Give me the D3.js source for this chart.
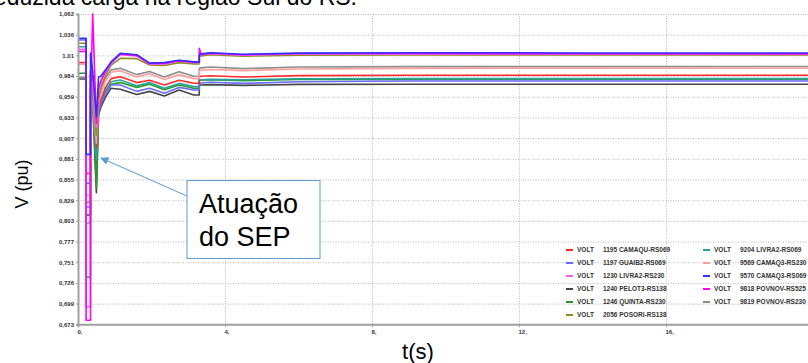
<!DOCTYPE html>
<html>
<head>
<meta charset="utf-8">
<script src="https://cdn.jsdelivr.net/npm/d3@7"></script>
<style>
  body { margin: 0; background: #fff; }
  svg { display: block; font-family: "Liberation Sans", Arial, sans-serif; }
</style>
</head>
<body>
<div id="chart"></div>
<script>
// time samples (s) shared by every bus
const times = [0, 0.22, 0.221, 0.34, 0.341, 0.4, 0.5, 0.56, 0.62, 0.75, 0.9, 1.15, 1.6, 1.95,
  2.35, 2.75, 3.15, 3.3, 3.301, 3.35, 3.6, 4.5, 6, 9, 14, 20];

// voltage (pu) per bus
const v1195 = [1.001, 1.001, 0.862, 0.862, 0.99, 0.983, 0.895, 0.945, 0.954, 0.970, 0.981, 0.9834, 0.976, 0.979,
  0.973, 0.979, 0.9751, 0.9751, 0.9834, 0.984, 0.9845, 0.983, 0.9848, 0.9852, 0.9852, 0.9852];
const v1197 = [1.0294, 1.0294, 0.82, 0.82, 0.99, 0.96, 0.905, 0.94, 0.948, 0.962, 0.973, 0.973, 0.965, 0.969,
  0.9626, 0.970, 0.9667, 0.9667, 0.975, 0.9755, 0.9765, 0.975, 0.977, 0.978, 0.978, 0.978];
const v1230 = [1.0177, 1.0177, 0.695, 0.695, 0.98, 0.975, 0.92, 0.965, 0.975, 0.99, 1.0, 1.011, 1.0095, 0.9995,
  0.9995, 1.003, 1.001, 1.001, 1.0105, 1.011, 1.0125, 1.0105, 1.012, 1.012, 1.012, 1.012];
const v1240 = [0.9805, 0.9805, 0.81, 0.81, 0.965, 0.95, 0.838, 0.935, 0.945, 0.958, 0.969, 0.9676, 0.961, 0.965,
  0.9592, 0.9667, 0.9605, 0.9605, 0.973, 0.973, 0.9735, 0.9725, 0.9738, 0.974, 0.974, 0.9739];
const v1246 = [0.9877, 0.9877, 0.732, 0.732, 0.97, 0.967, 0.844, 0.94, 0.95, 0.966, 0.974, 0.976, 0.970, 0.974,
  0.967, 0.973, 0.969, 0.969, 0.979, 0.979, 0.9795, 0.9785, 0.980, 0.9801, 0.9801, 0.9801];
const v2056 = [1.0253, 1.0253, 0.826, 0.826, 0.985, 0.96, 0.91, 0.955, 0.970, 0.985, 0.998, 1.0065, 1.006, 0.998,
  0.9975, 1.001, 0.9995, 0.9995, 1.009, 1.0095, 1.011, 1.009, 1.0105, 1.0106, 1.0106, 1.0106];
const v9204 = [1.021, 1.021, 0.85, 0.85, 0.985, 0.96, 0.88, 0.94, 0.95, 0.966, 0.977, 0.9793, 0.972, 0.976,
  0.969, 0.975, 0.971, 0.971, 0.979, 0.9795, 0.980, 0.9795, 0.9808, 0.981, 0.981, 0.981];
const v9569 = [0.999, 0.999, 0.835, 0.835, 0.98, 0.955, 0.90, 0.95, 0.962, 0.978, 0.989, 0.991, 0.983, 0.987,
  0.980, 0.986, 0.981, 0.981, 0.991, 0.9915, 0.9925, 0.991, 0.993, 0.9938, 0.994, 0.994];
const v9570 = [1.0315, 1.0315, 0.886, 0.886, 1.013, 0.99, 0.933, 0.983, 0.984, 0.992, 1.002, 1.0127, 1.011, 1.0005,
  1.001, 1.004, 1.002, 1.002, 1.011, 1.012, 1.0135, 1.0115, 1.013, 1.0135, 1.0132, 1.0131];
const v9818 = [1.015, 1.015, 0.678, 0.678, 0.95, 1.062, 0.925, 0.97, 0.978, 0.99, 1.001, 1.012, 1.010, 1.0,
  1.0, 1.0035, 1.0015, 1.0015, 1.019, 1.011, 1.013, 1.011, 1.0125, 1.0125, 1.0122, 1.012];
const v9819 = [0.9826, 0.9826, 0.80, 0.80, 0.975, 0.95, 0.87, 0.955, 0.967, 0.982, 0.992, 0.994, 0.986, 0.990,
  0.983, 0.9897, 0.984, 0.9843, 0.994, 0.9945, 0.9955, 0.9935, 0.9955, 0.996, 0.996, 0.9962];

const busNames = ['1195 CAMAQU-RS069', '1197 GUAIB2-RS069', '1230 LIVRA2-RS230', '1240 PELOT3-RS138',
  '1246 QUINTA-RS230', '2056 POSORI-RS138', '9204 LIVRA2-RS069', '9569 CAMAQ3-RS230',
  '9570 CAMAQ3-RS069', '9818 POVNOV-RS525', '9819 POVNOV-RS230'];
const busValues = [v1195, v1197, v1230, v1240, v1246, v2056, v9204, v9569, v9570, v9818, v9819];

const yTickLabels = ['0,673', '0,699', '0,726', '0,751', '0,777', '0,803', '0,829', '0,855', '0,881',
  '0,907', '0,933', '0,959', '0,984', '1,01', '1,036', '1,062'];
const xTicks = [0, 4, 8, 12, 16];

// styling
const lineColors = ['#ff2a2a', '#6a6aff', '#ff5cff', '#454545', '#249a2a', '#8e8e1e',
  '#2aa0a0', '#ff9c9c', '#2f2fff', '#ff00ff', '#8c8c8c'];
const drawOrder = [3, 10, 4, 6, 1, 0, 7, 5, 2, 9, 8];

const width = 808, height = 363;
const plot = { left: 78, right: 808, top: 14, bottom: 324.3 };

const svg = d3.select('#chart').append('svg')
  .attr('width', width)
  .attr('height', height);

svg.append('rect').attr('width', width).attr('height', height).attr('fill', '#fff');

const x = d3.scaleLinear().domain([0, 20]).range([plot.left, 813]);
const y = d3.scaleLinear().domain([0.673, 1.062]).range([plot.bottom, plot.top]);
const yTicks = d3.range(yTickLabels.length).map(i => 0.673 + i * (1.062 - 0.673) / (yTickLabels.length - 1));

// caption of the figure, cropped at the top edge of the picture
svg.append('text')
  .attr('x', 357).attr('y', 5)
  .attr('text-anchor', 'end')
  .attr('font-size', 23)
  .attr('fill', '#000')
  .text('reduzida carga na região Sul do RS.');

// grid
svg.append('g')
  .attr('transform', `translate(${plot.left},0)`)
  .call(d3.axisLeft(y).tickValues(yTicks).tickSize(-(plot.right - plot.left)).tickFormat(''))
  .call(g => g.select('.domain').remove())
  .call(g => g.selectAll('line').attr('stroke', '#b8b8b8').attr('stroke-dasharray', '1,1.5'));

svg.append('g')
  .attr('transform', `translate(0,${plot.bottom})`)
  .call(d3.axisBottom(x).tickValues(xTicks.filter(d => d > 0)).tickSize(-(plot.bottom - plot.top)).tickFormat(''))
  .call(g => g.select('.domain').remove())
  .call(g => g.selectAll('line').attr('stroke', '#b8b8b8').attr('stroke-dasharray', '1,1.5'));

// curves
svg.append('clipPath').attr('id', 'clip')
  .append('rect')
  .attr('x', plot.left).attr('y', plot.top - 2)
  .attr('width', plot.right - plot.left).attr('height', plot.bottom - plot.top + 2);

const line = d3.line()
  .x((d, i) => x(times[i]))
  .y(d => y(d));

svg.append('g').attr('clip-path', 'url(#clip)')
  .selectAll('path')
  .data(drawOrder)
  .join('path')
  .attr('d', k => line(busValues[k]))
  .attr('fill', 'none')
  .attr('stroke', k => lineColors[k])
  .attr('stroke-width', 1.6)
  .attr('stroke-linejoin', 'round');

// axes
const yAxis = svg.append('g')
  .attr('transform', `translate(${plot.left},0)`)
  .call(d3.axisLeft(y).tickValues(yTicks).tickSize(2).tickPadding(2).tickFormat((d, i) => yTickLabels[i]));

const xAxis = svg.append('g')
  .attr('transform', `translate(0,${plot.bottom})`)
  .call(d3.axisBottom(x).tickValues(xTicks).tickSize(3).tickPadding(2).tickFormat(d => d + ','));

[yAxis, xAxis].forEach(g => {
  g.select('.domain').attr('stroke', '#a0a0a0').attr('stroke-width', 2);
  g.selectAll('.tick line').attr('stroke', '#a0a0a0');
  g.selectAll('text')
    .attr('font-family', '"Liberation Sans", Arial, sans-serif')
    .attr('font-size', 6)
    .attr('font-weight', 'bold')
    .attr('fill', '#333');
});
xAxis.selectAll('text').attr('text-anchor', 'start').attr('dx', -1);

// axis titles
svg.append('text')
  .attr('transform', 'translate(28,184) rotate(-90)')
  .attr('text-anchor', 'middle')
  .attr('font-size', 18)
  .attr('fill', '#000')
  .text('V (pu)');

svg.append('text')
  .attr('x', 418).attr('y', 359)
  .attr('text-anchor', 'middle')
  .attr('font-size', 22)
  .attr('fill', '#000')
  .text('t(s)');

// legend, two columns
const legend = svg.append('g').attr('font-size', 6.5).attr('font-weight', 'bold').attr('fill', '#333');
busNames.forEach((name, i) => {
  const col = i < 6 ? 0 : 1;
  const row = i < 6 ? i : i - 6;
  const lx = col === 0 ? 566 : 703;
  const ly = 250 + row * 13;
  const item = legend.append('g').attr('transform', `translate(${lx},${ly})`);
  item.append('line')
    .attr('x1', 0).attr('x2', 7)
    .attr('stroke', lineColors[i])
    .attr('stroke-width', 2);
  item.append('text').attr('x', 11).attr('dy', '0.35em').text('VOLT');
  item.append('text').attr('x', 37).attr('dy', '0.35em').text(name);
});

// annotation callout
const accent = '#5b9bd5';
svg.append('defs').append('marker')
  .attr('id', 'arrow')
  .attr('viewBox', '0 0 10 10')
  .attr('refX', 9).attr('refY', 5)
  .attr('markerWidth', 10).attr('markerHeight', 8)
  .attr('markerUnits', 'userSpaceOnUse')
  .attr('orient', 'auto')
  .append('path')
  .attr('d', 'M0,0L10,5L0,10Z')
  .attr('fill', accent);

svg.append('line')
  .attr('x1', 187).attr('y1', 196)
  .attr('x2', 101).attr('y2', 158)
  .attr('stroke', accent)
  .attr('stroke-width', 1)
  .attr('marker-end', 'url(#arrow)');

svg.append('rect')
  .attr('x', 187).attr('y', 180.5)
  .attr('width', 133).attr('height', 78)
  .attr('fill', '#fff')
  .attr('stroke', accent)
  .attr('stroke-width', 1);

svg.append('text')
  .attr('x', 199).attr('y', 213)
  .attr('font-size', 27)
  .attr('fill', '#000')
  .text('Atuação');
svg.append('text')
  .attr('x', 199).attr('y', 246)
  .attr('font-size', 27)
  .attr('fill', '#000')
  .text('do SEP');
</script>
</body>
</html>
